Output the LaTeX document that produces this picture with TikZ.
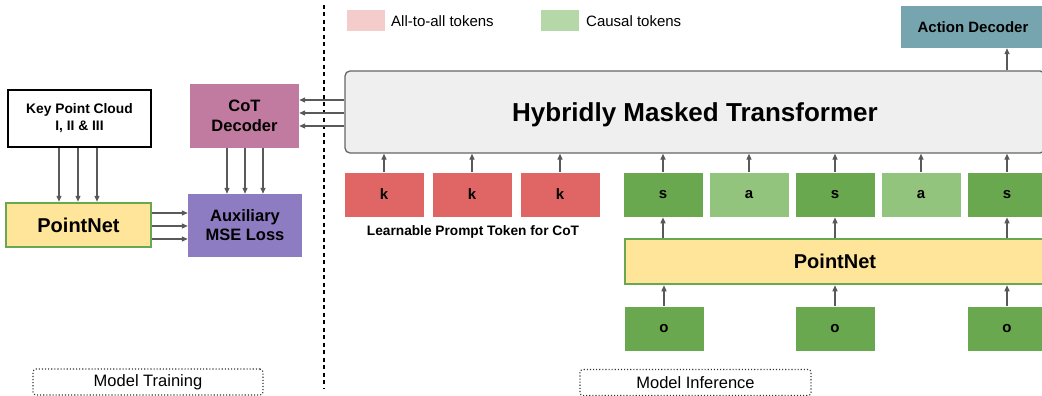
\documentclass[tikz,border=0pt]{standalone}
\usepackage{fontspec}
\setmainfont{Liberation Sans}
\usetikzlibrary{arrows.meta,calc}
\definecolor{kred}{HTML}{E06666}
\definecolor{sgreen}{HTML}{6AA84F}
\definecolor{agreen}{HTML}{93C47D}
\definecolor{lpink}{HTML}{F4CCCC}
\definecolor{lgreen}{HTML}{B6D7A8}
\definecolor{pnyellow}{HTML}{FFE599}
\definecolor{cotcol}{HTML}{C27BA0}
\definecolor{auxcol}{HTML}{8E7CC3}
\definecolor{adcol}{HTML}{76A5AF}
\definecolor{trfill}{HTML}{EFEFEF}
\definecolor{trline}{HTML}{666666}
\definecolor{arrcol}{HTML}{595959}
\tikzset{
  box/.style={inner sep=0pt, align=center, font=\bfseries},
  tok/.style={box, minimum width=80pt, minimum height=45pt, draw=white, line width=0.6pt, font=\fontsize{15}{18}\selectfont\bfseries},
  ktok/.style={tok, fill=kred},
  stok/.style={tok, fill=sgreen},
  atok/.style={tok, fill=agreen},
  pnbox/.style={box, fill=pnyellow, draw=sgreen, line width=2.5pt, font=\fontsize{20}{24}\selectfont\bfseries},
  arr/.style={draw=arrcol, line width=1.3pt, -{Triangle[length=6pt,width=5pt]}},
  caption/.style={draw=black!80, dotted, line width=1.1pt, rounded corners=3pt, minimum width=230pt, minimum height=26pt, inner sep=0pt, font=\fontsize{16.5}{20}\selectfont},
  legbox/.style={minimum width=38pt, minimum height=21pt, inner sep=0pt},
  legtext/.style={anchor=west, inner sep=0pt, font=\fontsize{15}{18}\selectfont}
}
\begin{document}
\begin{tikzpicture}[x=1pt,y=-1pt]
\useasboundingbox (0,0) rectangle (1042,396);
\clip (0,0) rectangle (1042,396);

% ---------- left: training ----------
\node[box, draw=black, line width=1.5pt, fill=white, minimum width=143pt, minimum height=57pt,
      font=\fontsize{13.8}{17}\selectfont\bfseries] (kpc) at (79.5,118.5) {Key Point Cloud\\I, II \& III};
\node[pnbox, minimum width=145pt, minimum height=44pt] (pn1) at (78.5,225) {PointNet};
\node[box, fill=cotcol, minimum width=109pt, minimum height=64pt,
      font=\fontsize{16.5}{19.5}\selectfont\bfseries] (cot) at (244.5,116) {CoT\\Decoder};
\node[box, fill=auxcol, minimum width=114pt, minimum height=63pt,
      font=\fontsize{16.5}{19}\selectfont\bfseries] (aux) at (245,225.5) {Auxiliary\\MSE Loss};

\foreach \s in {-20.5,-1.5,17.5}
  \draw[arr] ([xshift=\s pt]kpc.south) -- ([xshift=\s pt]kpc.south |- pn1.north);
\foreach \s in {-17.5,0.5,18.5}
  \draw[arr] ([xshift=\s pt]cot.south) -- ([xshift=\s pt]cot.south |- aux.north);
\foreach \s in {12,-1,-14}
  \draw[arr] ([yshift=\s pt]pn1.east) -- ([yshift=\s pt]pn1.east -| aux.west);

\node[caption] (mt) at (148,382) {Model Training};

% separator
\coordinate (sepTop) at (324,5);
\coordinate (sepBot) at (324,389);
\draw[black, line width=1.2pt, dash pattern=on 4pt off 3.5pt] (sepTop) -- (sepBot);

% ---------- right: inference ----------
\node[legbox, fill=lpink] (lp) at (366,20.5) {};
\node[legtext] (lpt) at (391,21) {All-to-all tokens};
\node[legbox, fill=lgreen] (lg) at (560,20.5) {};
\node[legtext] (lgt) at (586,21) {Causal tokens};

\node[box, fill=adcol, minimum width=144pt, minimum height=42pt,
      font=\fontsize{15}{18}\selectfont\bfseries] (ad) at (973,27) {Action Decoder};

\node[box, fill=trfill, draw=trline, line width=1.3pt, rounded corners=5pt,
      minimum width=700pt, minimum height=82pt, text depth=0pt,
      font=\fontsize{26}{30}\selectfont\bfseries] (tr) at (695,112) {Hybridly Masked Transformer};

\foreach \s in {12,-1,-14}
  \draw[arr] ([yshift=\s pt]tr.west) -- ([yshift=\s pt]tr.west -| cot.east);

\node[ktok] (k1) at (384,194.5) {k};
\node[ktok] (k2) at (472,194.5) {k};
\node[ktok] (k3) at (560,194.5) {k};
\node[stok] (s1) at (663,194.5) {s};
\node[atok] (a1) at (749,194.5) {a};
\node[stok] (s2) at (835,194.5) {s};
\node[atok] (a2) at (921,194.5) {a};
\node[stok] (s3) at (1007,194.5) {s};

\node[box, font=\fontsize{13.7}{16}\selectfont\bfseries] (lpt2) at (473,232) {Learnable Prompt Token for CoT};

\foreach \n in {k1,k2,k3,s1,a1,s2,a2,s3}
  \draw[arr] (\n.north) -- (\n.north |- tr.south);
\draw[arr] (tr.north -| s3) -- (ad.south -| s3);

\node[pnbox, minimum width=420pt, minimum height=45pt] (pn2) at (835,261.5) {PointNet};

\node[stok] (o1) at (664,328.5) {o};
\node[stok] (o2) at (835,328.5) {o};
\node[stok] (o3) at (1007,328.5) {o};

\foreach \n in {s1,s2,s3}
  \draw[arr] (pn2.north -| \n) -- (\n.south);
\foreach \n in {o1,o2,o3}
  \draw[arr] (\n.north) -- (\n.north |- pn2.south);

\node[caption, minimum width=231pt] (mi) at (695.5,382.5) {Model Inference};
\end{tikzpicture}
\end{document}
